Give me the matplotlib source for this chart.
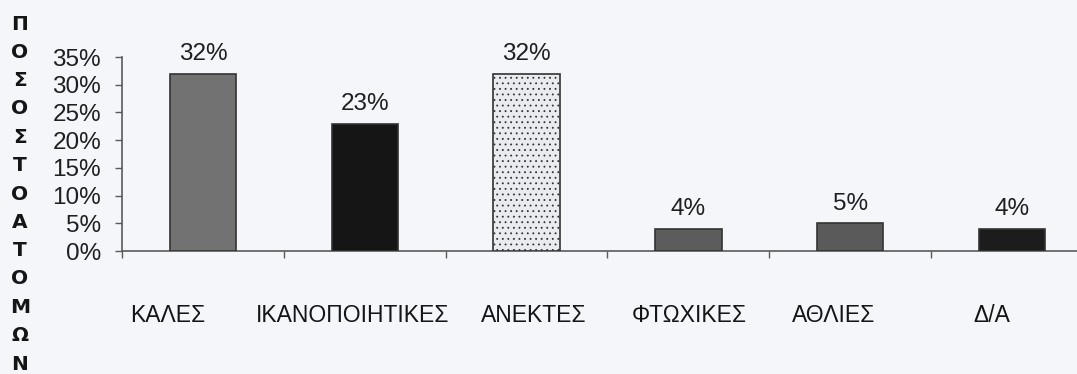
import matplotlib
matplotlib.use("Agg")
import matplotlib.pyplot as plt
from matplotlib.ticker import FixedLocator, PercentFormatter
from matplotlib.transforms import ScaledTranslation

# Data
categories = ["ΚΑΛΕΣ", "ΙΚΑΝΟΠΟΙΗΤΙΚΕΣ", "ΑΝΕΚΤΕΣ", "ΦΤΩΧΙΚΕΣ", "ΑΘΛΙΕΣ", "Δ/Α"]
shares = [0.32, 0.23, 0.32, 0.04, 0.05, 0.04]
value_labels = ["32%", "23%", "32%", "4%", "5%", "4%"]
y_ticks = [0.0, 0.05, 0.10, 0.15, 0.20, 0.25, 0.30, 0.35]
axis_title = "ΠΟΣΟΣΤΟΑΤΟΜΩΝ"

bar_colors = ["#727272", "#151515", "#e9ebef", "#5c5c5c", "#5a5a5a", "#1c1c1c"]
bar_hatches = [None, None, "...", None, None, None]
# horizontal nudge of each category label (pixels)
label_shift_px = [-35, -12, 7, 1, -17, -20]

bg = "#f4f6f9"
ink = "#1f1f1f"
axis_col = "#5a5a5a"

plt.rcParams["font.family"] = ["Liberation Sans", "DejaVu Sans"]
plt.rcParams["hatch.color"] = "#dcdfe4"
plt.rcParams["hatch.linewidth"] = 0.6

DPI = 100
fig = plt.figure(figsize=(10.77, 3.74), dpi=DPI, facecolor=bg)
ax = fig.add_axes([122 / 1077, 123 / 374, 971 / 1077, 194 / 374])
ax.set_facecolor(bg)

x = list(range(len(categories)))
bars = ax.bar(x, shares, width=0.41, color=bar_colors, edgecolor="#333333",
              linewidth=1.2, zorder=3)
for b, h in zip(bars, bar_hatches):
    if h:
        b.set_hatch(h)

for xi, v, lab in zip(x, shares, value_labels):
    ax.annotate(lab, (xi, v), xytext=(0, 6), textcoords="offset points",
                ha="center", va="bottom", fontsize=17.5, color=ink)

ax.set_xlim(-0.5, len(categories) - 0.5)
ax.set_ylim(0, 0.35)
ax.yaxis.set_major_locator(FixedLocator(y_ticks))
ax.yaxis.set_major_formatter(PercentFormatter(1.0, decimals=0))

ax.set_xticks(x)
ax.set_xticklabels(categories)
ax.xaxis.set_minor_locator(FixedLocator([i - 0.5 for i in range(len(categories) + 1)]))
ax.tick_params(axis="x", which="major", length=0, pad=38, labelsize=16.5, labelcolor="#151515")
ax.tick_params(axis="x", which="minor", direction="out", length=5, width=1, color=axis_col)
ax.tick_params(axis="y", direction="out", length=5, width=1, color=axis_col,
               pad=10, labelsize=17.5, labelcolor=ink)
for lbl, dx in zip(ax.get_xticklabels(), label_shift_px):
    lbl.set_transform(lbl.get_transform() + ScaledTranslation(dx / DPI, 0, fig.dpi_scale_trans))

for side in ("top", "right"):
    ax.spines[side].set_visible(False)
for side in ("left", "bottom"):
    ax.spines[side].set_color(axis_col)
    ax.spines[side].set_linewidth(1.2)

# Vertical stacked axis title
n = len(axis_title)
top_y, bot_y = 1 - 24 / 374, 1 - 364 / 374
for i, ch in enumerate(axis_title):
    yy = top_y + (bot_y - top_y) * i / (n - 1)
    fig.text(20 / 1077, yy, ch, ha="center", va="center", fontsize=14.5,
             fontweight="bold", family=["DejaVu Sans"], color="#151515")

fig.savefig("out.png", dpi=DPI, facecolor=bg)
